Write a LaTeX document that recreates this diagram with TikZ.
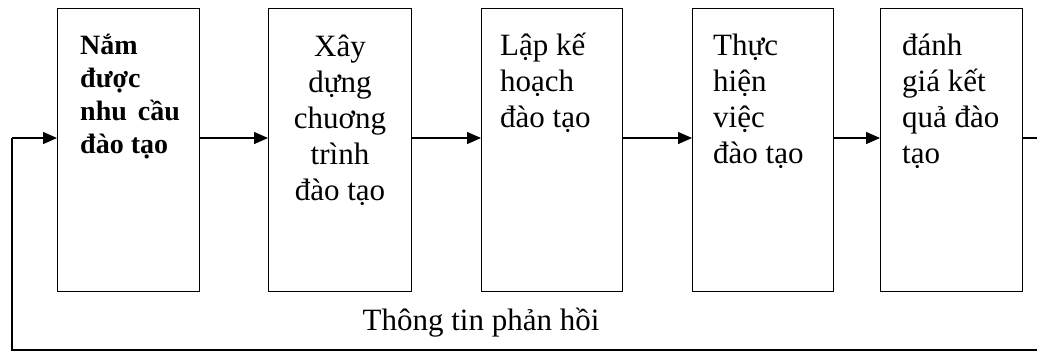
\documentclass[tikz,border=0pt]{standalone}
\usepackage{fontspec}
\setmainfont{Liberation Serif}
\usetikzlibrary{arrows.meta}
\begin{document}
\begin{tikzpicture}[x=1pt,y=-1pt,
  stage/.style={draw, line width=1.4pt, minimum width=142pt, minimum height=283pt,
    inner sep=0pt, anchor=north west},
  lbl/.style={font=\fontsize{31}{36}\selectfont, inner sep=0pt, anchor=base west, align=left},
  flow/.style={line width=1.4pt, -{Triangle[length=14pt,width=12pt]}},
  loopline/.style={line width=1.4pt}]
\useasboundingbox (0,0) rectangle (1037,354);
% the five stages
\node[stage] (s1) at (57,8) {};
\node[stage, minimum width=143pt] (s2) at (268,8) {};
\node[stage, minimum width=141pt] (s3) at (481,8) {};
\node[stage, minimum width=141pt] (s4) at (692,8) {};
\node[stage] (s5) at (880,8) {};
% stage texts (placed by the baseline of their last line)
\node[lbl, font=\fontsize{28}{32.7}\selectfont\bfseries] (t1) at (80,153)
  {Nắm\\được\\nhu\hspace{4pt} cầu\\đào tạo};
\node[lbl, font=\fontsize{31}{35.8}\selectfont, align=center, anchor=base] (t2) at (340,200)
  {Xây\\dựng\\chuơng\\trình\\đào tạo};
\node[lbl] (t3) at (500,127) {Lập kế\\hoạch\\đào tạo};
\node[lbl] (t4) at (713,163) {Thực\\hiện\\việc\\đào tạo};
\node[lbl] (t5) at (902,163) {đánh\\giá kết\\quả đào\\tạo};
% forward flow
\draw[flow] ([yshift=-130pt]s1.north east) -- ([yshift=-130pt]s2.north west);
\draw[flow] ([yshift=-130pt]s2.north east) -- ([yshift=-130pt]s3.north west);
\draw[flow] ([yshift=-130pt]s3.north east) -- ([yshift=-130pt]s4.north west);
\draw[flow] ([yshift=-130pt]s4.north east) -- ([yshift=-130pt]s5.north west);
% feedback loop
\coordinate (r1) at (1050,138);
\coordinate (r2) at (1050,350);
\coordinate (l2) at (12,350);
\coordinate (l1) at (12,138);
\draw[loopline] ([yshift=-130pt]s5.north east) -- (r1) -- (r2) -- (l2) -- (l1);
\draw[flow] (l1) -- ([yshift=-130pt]s1.north west);
\node[lbl, anchor=base] (fb) at (481,330) {Thông tin phản hồi};
\end{tikzpicture}
\end{document}
